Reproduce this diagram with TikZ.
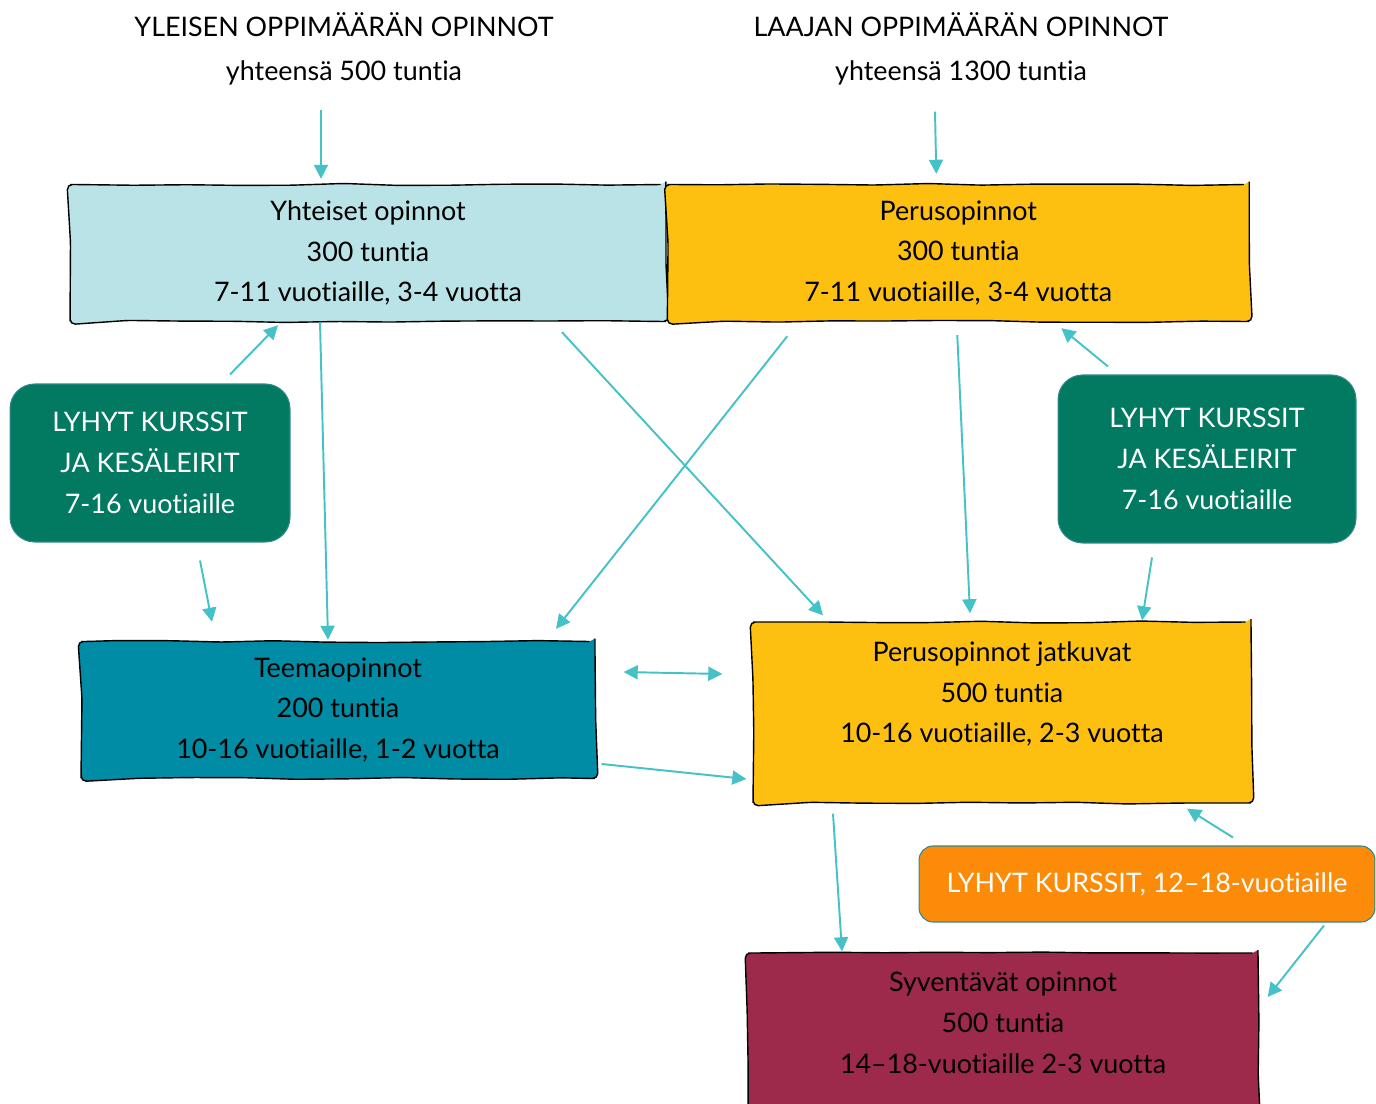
\documentclass[tikz,border=0pt]{standalone}
\usepackage{fontspec}
\setmainfont{Lato}[Ligatures={NoCommon, NoContextual}]
\usepackage{tikz}
\usetikzlibrary{arrows.meta, calc, positioning, decorations.pathmorphing}
\usepackage{xcolor}
\definecolor{arrowcyan}{RGB}{69,193,200}
\definecolor{paleblue}{RGB}{186,227,231}
\definecolor{amber}{RGB}{253,192,16}
\definecolor{darkgreen}{RGB}{2,122,97}
\definecolor{teemablue}{RGB}{0,140,165}
\definecolor{brightorange}{RGB}{251,139,8}
\definecolor{wine}{RGB}{158,42,75}
\newcommand{\bodyfont}{\fontsize{15.3pt}{23.2pt}\selectfont}

\tikzset{
    studybox/.style={draw=black, line width=0.8pt, align=center, inner sep=0pt, font=\bodyfont,
        decorate, decoration={random steps, segment length=30pt, amplitude=0.6pt}, rounded corners=3pt},
    coursebox/.style={draw=arrowcyan!70!black, line width=0.6pt, rounded corners=14pt, align=center,
        inner sep=0pt, text=white, font=\bodyfont},
    titletext/.style={align=center, inner sep=0pt, font=\bodyfont},
    arr/.style={-{Triangle[length=8pt, width=8pt]}, line width=1.1pt, draw=arrowcyan},
}

\begin{document}
\begin{tikzpicture}[x=0.02cm, y=-0.02cm]
    \useasboundingbox (0,0) rectangle (1376,1104);

    % titles
    \node[titletext] (tit1) at (344,49) {YLEISEN OPPIMÄÄRÄN OPINNOT\\[2pt]yhteensä 500 tuntia};
    \node[titletext] (tit2) at (961,49) {LAAJAN OPPIMÄÄRÄN OPINNOT\\[2pt]yhteensä 1300 tuntia};

    % study blocks
    \node[studybox, fill=paleblue, minimum width=11.92cm, minimum height=2.74cm] (yht) at (368,253)
        {Yhteiset opinnot\\300 tuntia\\7-11 vuotiaille, 3-4 vuotta};
    \node[studybox, fill=amber, minimum width=11.64cm, minimum height=2.74cm, right=0pt of yht] (per)
        {Perusopinnot\\300 tuntia\\7-11 vuotiaille, 3-4 vuotta};
    \node[studybox, fill=teemablue, minimum width=10.28cm, minimum height=2.74cm] (tee) at (338,710)
        {Teemaopinnot\\200 tuntia\\10-16 vuotiaille, 1-2 vuotta};
    \node[studybox, fill=amber, minimum width=9.96cm, minimum height=3.62cm] (jat) at (1002,712.5)
        {Perusopinnot jatkuvat\\500 tuntia\\10-16 vuotiaille, 2-3 vuotta\\ \mbox{}};
    \node[studybox, fill=wine, minimum width=10.2cm, minimum height=3.6cm] (syv) at (1003,1043)
        {Syventävät opinnot\\500 tuntia\\14–18-vuotiaille 2-3 vuotta\\ \mbox{}};

    % short courses
    \node[coursebox, fill=darkgreen, minimum width=5.6cm, minimum height=3.16cm] (lg) at (150,463)
        {LYHYT KURSSIT\\JA KESÄLEIRIT\\7-16 vuotiaille};
    \node[coursebox, fill=darkgreen, minimum width=5.96cm, minimum height=3.36cm] (rg) at (1207,459)
        {LYHYT KURSSIT\\JA KESÄLEIRIT\\7-16 vuotiaille};
    \node[coursebox, fill=brightorange, rounded corners=8pt, minimum width=9.12cm, minimum height=1.52cm] (ora) at (1147,884)
        {LYHYT KURSSIT, 12–18-vuotiaille};

    % connectors
    \draw[arr] ([shift={(-23,24)}]tit1.south) -- ([shift={(-47,-5)}]yht.north);
    \draw[arr] ([shift={(-26,26)}]tit2.south) -- ([shift={(-22,-10)}]per.north);
    \draw[arr] ([shift={(80,-9)}]lg.north) -- ([shift={(-90,3)}]yht.south);
    \draw[arr] ([shift={(-48,0)}]yht.south) -- ([shift={(-10,-1)}]tee.north);
    \draw[arr] ([shift={(194,10)}]yht.south) -- ([shift={(-179,-6)}]jat.north);
    \draw[arr] ([shift={(-171,14)}]per.south) -- ([shift={(218,-12)}]tee.north);
    \draw[arr] ([shift={(-1,13)}]per.south) -- ([shift={(-32,-8)}]jat.north);
    \draw[arr] ([shift={(-99,-8)}]rg.north) -- ([shift={(103,6)}]per.south);
    \draw[arr] ([shift={(-55,14)}]rg.south) -- ([shift={(140,-1)}]jat.north);
    \draw[arr] ([shift={(50,18)}]lg.south) -- ([shift={(-126,-19)}]tee.north);
    \draw[arr, {Triangle[length=8pt, width=8pt]}-{Triangle[length=8pt, width=8pt]}]
        ([shift={(28,-38)}]tee.east) -- ([shift={(-30,-38.5)}]jat.west);
    \draw[arr] ([shift={(6,54)}]tee.east) -- ([shift={(-6,66.5)}]jat.west);
    \draw[arr] ([shift={(86,-8)}]ora.north) -- ([shift={(185,5)}]jat.south);
    \draw[arr] ([shift={(-169,10)}]jat.south) -- ([shift={(-161,-1)}]syv.north);
    \draw[arr] ([shift={(177,3)}]ora.south) -- ([shift={(9,-46)}]syv.east);
\end{tikzpicture}
\end{document}
